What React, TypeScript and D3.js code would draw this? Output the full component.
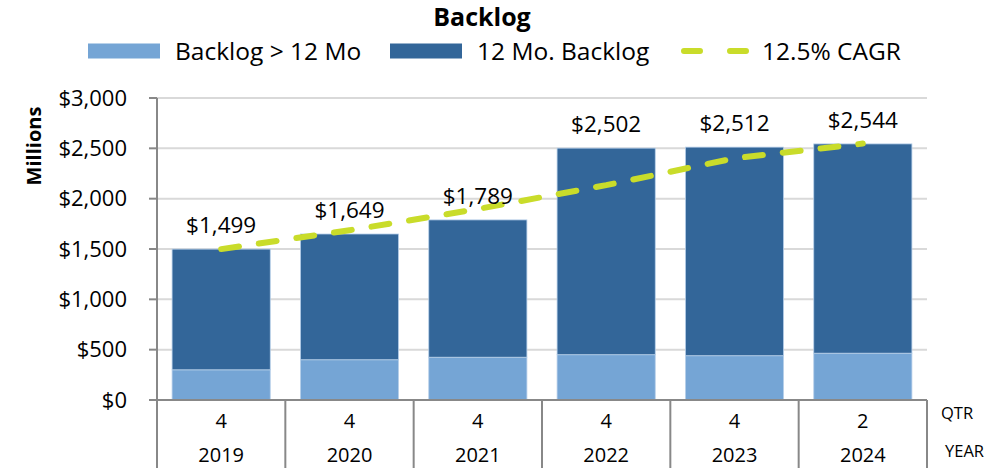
/**
 * Backlog stacked bar chart with CAGR trend line, drawn with D3.
 **/
import React, { useEffect, useRef } from "react";
import * as d3 from "d3";

const years = ["2019", "2020", "2021", "2022", "2023", "2024"];
const quarters = ["4", "4", "4", "4", "4", "2"];
const backlogOver12 = [300, 400, 425, 450, 440, 465];
const totals = [1499, 1649, 1789, 2502, 2512, 2544];
const cagrLine = [1499, 1686, 1897, 2134, 2401, 2547];
const yTicks = [0, 500, 1000, 1500, 2000, 2500, 3000];

const seriesNames = ["Backlog > 12 Mo", "12 Mo. Backlog", "12.5% CAGR"];
const colors = ["#75a5d5", "#336699", "#c9dc2a"];

const width = 996;
const height = 468;
const font = "'Open Sans', Lato, sans-serif";

export const App: React.FC = (): React.ReactElement => {
  const ref = useRef<SVGSVGElement | null>(null);

  useEffect(() => {
    const svg = d3.select(ref.current).attr("width", width).attr("height", height);
    svg.selectAll("*").remove();

    const left = 157;
    const right = 927;
    const top = 98;
    const bottom = 400;

    const x = d3.scaleBand<string>().domain(years).range([left, right]).paddingInner(0.235).paddingOuter(0.1175);
    const y = d3.scaleLinear().domain([0, 3000]).range([bottom, top]);

    // gridlines
    svg
      .append("g")
      .selectAll("line")
      .data(yTicks.filter((d) => d > 0))
      .join("line")
      .attr("x1", left)
      .attr("x2", right)
      .attr("y1", (d) => y(d))
      .attr("y2", (d) => y(d))
      .attr("stroke", "#d9d9d9")
      .attr("stroke-width", 2);

    // stacked bars
    const rows = years.map((yr, i) => ({
      year: yr,
      over12: backlogOver12[i],
      within12: totals[i] - backlogOver12[i],
    }));
    const stack = d3.stack<(typeof rows)[number]>().keys(["over12", "within12"]);
    const stacked = stack(rows);

    svg
      .append("g")
      .selectAll("g")
      .data(stacked)
      .join("g")
      .attr("fill", (_d, i) => colors[i])
      .selectAll("rect")
      .data((d) => d)
      .join("rect")
      .attr("x", (d) => x(d.data.year)!)
      .attr("width", x.bandwidth())
      .attr("y", (d) => y(d[1]))
      .attr("height", (d) => y(d[0]) - y(d[1]))
      .attr("stroke", "#b8d0ea")
      .attr("stroke-width", 0.8);

    // y axis
    const yAxis = svg.append("g");
    yAxis
      .append("line")
      .attr("x1", left)
      .attr("x2", left)
      .attr("y1", top)
      .attr("y2", height)
      .attr("stroke", "#888")
      .attr("stroke-width", 2);
    yAxis
      .selectAll("line.tick")
      .data(yTicks)
      .join("line")
      .attr("class", "tick")
      .attr("x1", left - 8)
      .attr("x2", left)
      .attr("y1", (d) => y(d))
      .attr("y2", (d) => y(d))
      .attr("stroke", "#888")
      .attr("stroke-width", 2);
    yAxis
      .selectAll("text")
      .data(yTicks)
      .join("text")
      .attr("x", 127)
      .attr("y", (d) => y(d))
      .attr("dy", "0.35em")
      .attr("text-anchor", "end")
      .attr("font-family", font)
      .attr("font-size", 22)
      .attr("fill", "#000")
      .text((d) => "$" + d3.format(",")(d));

    svg
      .append("text")
      .attr("transform", `translate(34,146) rotate(-90)`)
      .attr("dy", "0.35em")
      .attr("text-anchor", "middle")
      .attr("font-family", font)
      .attr("font-weight", "bold")
      .attr("font-size", 20)
      .text("Millions");

    // x axis with category separators
    const xAxis = svg.append("g");
    xAxis
      .append("line")
      .attr("x1", left - 8)
      .attr("x2", right)
      .attr("y1", bottom)
      .attr("y2", bottom)
      .attr("stroke", "#888")
      .attr("stroke-width", 2);
    const step = x.step();
    const edges = years.map((yr) => x(yr)! - (step - x.bandwidth()) / 2).concat([right]);
    xAxis
      .selectAll("line.sep")
      .data(edges)
      .join("line")
      .attr("class", "sep")
      .attr("x1", (d) => d)
      .attr("x2", (d) => d)
      .attr("y1", bottom)
      .attr("y2", height)
      .attr("stroke", "#888")
      .attr("stroke-width", 2);
    xAxis
      .selectAll("text.qtr")
      .data(quarters)
      .join("text")
      .attr("class", "qtr")
      .attr("x", (_d, i) => x(years[i])! + x.bandwidth() / 2)
      .attr("y", 421)
      .attr("dy", "0.35em")
      .attr("text-anchor", "middle")
      .attr("font-family", font)
      .attr("font-size", 20)
      .text((d) => d);
    xAxis
      .selectAll("text.yr")
      .data(years)
      .join("text")
      .attr("class", "yr")
      .attr("x", (d) => x(d)! + x.bandwidth() / 2)
      .attr("y", 455)
      .attr("dy", "0.35em")
      .attr("text-anchor", "middle")
      .attr("font-family", font)
      .attr("font-size", 20)
      .text((d) => d);
    xAxis
      .selectAll("text.lvl")
      .data(["QTR", "YEAR"])
      .join("text")
      .attr("class", "lvl")
      .attr("x", (_d, i) => (i === 0 ? 941 : 945))
      .attr("y", (_d, i) => (i === 0 ? 413 : 451))
      .attr("dy", "0.35em")
      .attr("font-family", font)
      .attr("font-size", 16.5)
      .text((d) => d);

    // CAGR line
    const line = d3
      .line<number>()
      .x((_d, i) => x(years[i])! + x.bandwidth() / 2)
      .y((d) => y(d));
    svg
      .append("path")
      .datum(cagrLine)
      .attr("d", line)
      .attr("fill", "none")
      .attr("stroke", colors[2])
      .attr("stroke-width", 6)
      .attr("stroke-linecap", "round")
      .attr("stroke-dasharray", "18 20");

    // value labels
    svg
      .append("g")
      .selectAll("text")
      .data(totals)
      .join("text")
      .attr("x", (_d, i) => x(years[i])! + x.bandwidth() / 2)
      .attr("y", (d) => y(d) - 16)
      .attr("text-anchor", "middle")
      .attr("font-family", font)
      .attr("font-size", 22.5)
      .text((d) => "$" + d3.format(",")(d));

    // title
    svg
      .append("text")
      .attr("x", 482)
      .attr("y", 17)
      .attr("dy", "0.35em")
      .attr("text-anchor", "middle")
      .attr("font-family", font)
      .attr("font-weight", "bold")
      .attr("font-size", 25)
      .text("Backlog");

    // legend
    const legendX = [88, 390, 680];
    const legend = svg
      .append("g")
      .selectAll("g")
      .data(seriesNames)
      .join("g")
      .attr("transform", (_d, i) => `translate(${legendX[i]},51)`);
    legend
      .filter((_d, i) => i < 2)
      .append("rect")
      .attr("x", 0)
      .attr("y", -7.5)
      .attr("width", 72)
      .attr("height", 15)
      .attr("fill", (_d, i) => colors[i]);
    legend
      .filter((_d, i) => i === 2)
      .append("line")
      .attr("x1", 4)
      .attr("x2", 66)
      .attr("y1", 0)
      .attr("y2", 0)
      .attr("stroke", colors[2])
      .attr("stroke-width", 6)
      .attr("stroke-linecap", "round")
      .attr("stroke-dasharray", "16 30");
    legend
      .append("text")
      .attr("x", (_d, i) => (i === 2 ? 82 : 87))
      .attr("y", 0)
      .attr("dy", "0.35em")
      .attr("font-family", font)
      .attr("font-size", 24.5)
      .text((d) => d);
  }, []);

  return (
    <div id="Backlog">
      <svg ref={ref} style={{ position: "absolute", left: 0, top: 0 }}></svg>
    </div>
  );
};

export default App;
